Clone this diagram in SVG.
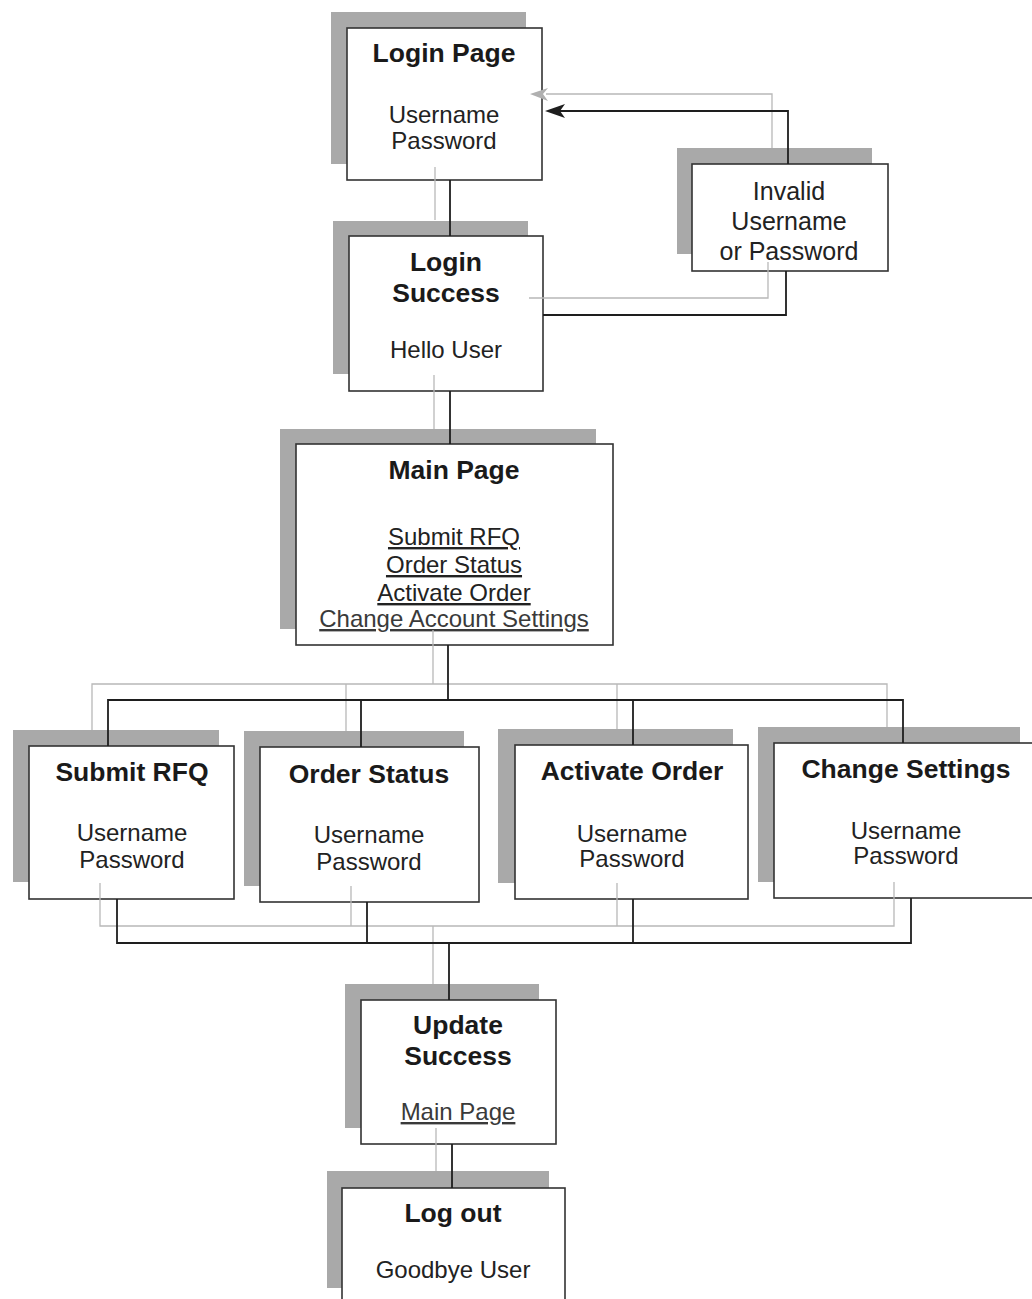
<svg xmlns="http://www.w3.org/2000/svg" width="1032" height="1299" viewBox="0 0 1032 1299">
  <style>
    .shadow { fill: #a9a9a9; }
    .box { fill: #ffffff; stroke: #333333; stroke-width: 1.6; }
    .title { font-family: "Liberation Sans", Arial, sans-serif; font-weight: bold; font-size: 26.5px; fill: #1a1a1a; text-anchor: middle; }
    .body { font-family: "Liberation Sans", Arial, sans-serif; font-size: 24px; fill: #222222; text-anchor: middle; }
    .link { text-decoration: underline; }
    .faint { fill: #3a3a3a; }
    .wire-dark { fill: none; stroke: #1e1e1e; stroke-width: 1.8; }
    .wire-light { fill: none; stroke: #b8b8b8; stroke-width: 1.3; }
  </style>
  <rect x="0" y="0" width="1032" height="1299" fill="#ffffff"/>

  <!-- page nodes: grey drop shadow behind each white panel -->
  <g id="login-page">
    <rect class="shadow" x="331" y="12" width="195" height="152"/>
    <rect class="box" x="347" y="28" width="195" height="152"/>
    <text class="title" x="444" y="62">Login Page</text>
    <text class="body" x="444" y="123">Username</text>
    <text class="body" x="444" y="149">Password</text>
  </g>

  <g id="invalid-login">
    <rect class="shadow" x="677" y="148" width="195" height="106"/>
    <rect class="box" x="692" y="164" width="196" height="107"/>
    <text class="body" x="789" y="200" style="font-size:25px">Invalid</text>
    <text class="body" x="789" y="230" style="font-size:25px">Username</text>
    <text class="body" x="789" y="260" style="font-size:25px">or Password</text>
  </g>

  <g id="login-success">
    <rect class="shadow" x="333" y="221" width="195" height="153"/>
    <rect class="box" x="349" y="236" width="194" height="155"/>
    <text class="title" x="446" y="271">Login</text>
    <text class="title" x="446" y="302">Success</text>
    <text class="body" x="446" y="358">Hello User</text>
  </g>

  <g id="main-page">
    <rect class="shadow" x="280" y="429" width="316" height="200"/>
    <rect class="box" x="296" y="444" width="317" height="201"/>
    <text class="title" x="454" y="479">Main Page</text>
    <text class="body link" x="454" y="545">Submit RFQ</text>
    <text class="body link" x="454" y="573">Order Status</text>
    <text class="body link" x="454" y="601">Activate Order</text>
    <text class="body link faint" x="454" y="627">Change Account Settings</text>
  </g>

  <g id="submit-rfq">
    <rect class="shadow" x="13" y="730" width="206" height="152"/>
    <rect class="box" x="29" y="746" width="205" height="153"/>
    <text class="title" x="132" y="781">Submit RFQ</text>
    <text class="body" x="132" y="841">Username</text>
    <text class="body" x="132" y="868">Password</text>
  </g>

  <g id="order-status">
    <rect class="shadow" x="244" y="731" width="220" height="155"/>
    <rect class="box" x="260" y="747" width="219" height="155"/>
    <text class="title" x="369" y="783">Order Status</text>
    <text class="body" x="369" y="843">Username</text>
    <text class="body" x="369" y="870">Password</text>
  </g>

  <g id="activate-order">
    <rect class="shadow" x="498" y="729" width="235" height="154"/>
    <rect class="box" x="515" y="745" width="233" height="154"/>
    <text class="title" x="632" y="780">Activate Order</text>
    <text class="body" x="632" y="842">Username</text>
    <text class="body" x="632" y="867">Password</text>
  </g>

  <g id="change-settings">
    <rect class="shadow" x="758" y="727" width="262" height="155"/>
    <rect class="box" x="774" y="743" width="264" height="155"/>
    <text class="title" x="906" y="778">Change Settings</text>
    <text class="body" x="906" y="839">Username</text>
    <text class="body" x="906" y="864">Password</text>
  </g>

  <g id="update-success">
    <rect class="shadow" x="345" y="984" width="194" height="144"/>
    <rect class="box" x="361" y="1000" width="195" height="144"/>
    <text class="title" x="458" y="1034">Update</text>
    <text class="title" x="458" y="1065">Success</text>
    <text class="body link faint" x="458" y="1120">Main Page</text>
  </g>

  <g id="log-out">
    <rect class="shadow" x="327" y="1171" width="222" height="117"/>
    <rect class="box" x="342" y="1188" width="223" height="130"/>
    <text class="title" x="453" y="1222">Log out</text>
    <text class="body" x="453" y="1278">Goodbye User</text>
  </g>

  <!-- connectors: pale shadow trace plus dark line for each link -->
  <g id="connectors">
    <g id="shadow-traces">
      <path class="wire-light" d="M435,167 V220"/>
      <path class="wire-light" d="M434,375 V429"/>
      <path class="wire-light" d="M433,630 V684 M92,730 V684 H887 V727 M346,684 V731 M617,684 V729"/>
      <path class="wire-light" d="M100,883 V926 H894 V882 M351,886 V926 M617,883 V926 M433,926 V984"/>
      <path class="wire-light" d="M436,1128 V1171"/>
      <path class="wire-light" d="M529,298 H768 V262"/>
      <path class="wire-light" d="M772,148 V94 H546"/>
      <polygon fill="#b0b0b0" points="530,94 548,88 543,94 548,101"/>
    </g>
    <g id="links">
      <path class="wire-dark" d="M450,180 V236"/>
      <path class="wire-dark" d="M450,391 V444"/>
      <path class="wire-dark" d="M448,645 V700 M108,746 V700 H903 V743 M361,700 V747 M633,700 V745"/>
      <path class="wire-dark" d="M117,899 V943 H911 V898 M367,902 V943 M633,899 V943 M449,943 V1000"/>
      <path class="wire-dark" d="M452,1144 V1188"/>
      <path class="wire-dark" d="M543,315 H786 V271"/>
      <path class="wire-dark" d="M788,164 V111 H560"/>
      <polygon fill="#1e1e1e" points="545,111 565,104 560,111 565,118"/>
    </g>
  </g>
</svg>
